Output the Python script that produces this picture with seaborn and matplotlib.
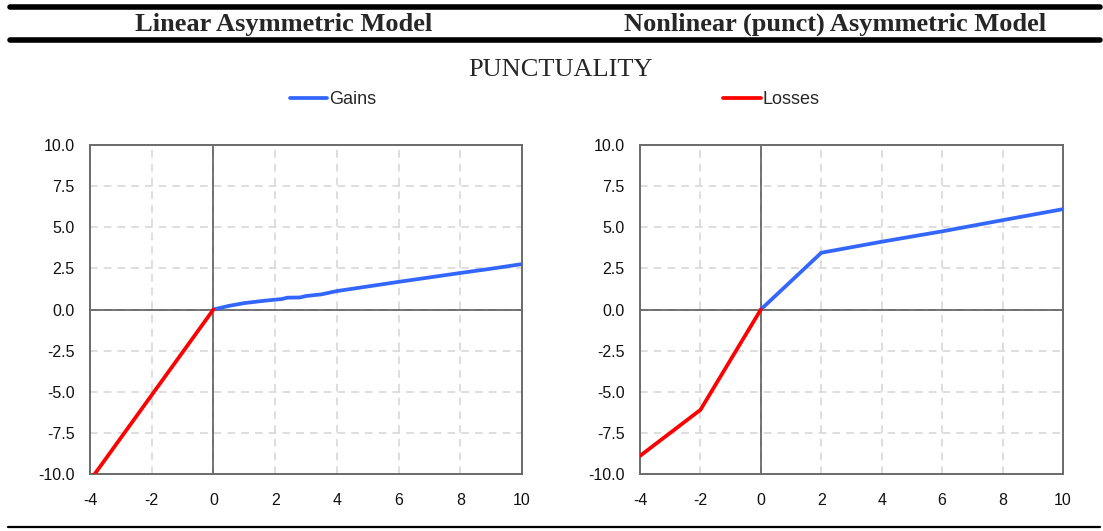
import numpy as np
import pandas as pd
import matplotlib
matplotlib.use("Agg")
import matplotlib.pyplot as plt
from matplotlib.lines import Line2D
from matplotlib.ticker import FormatStrFormatter
import seaborn as sns

# values
lin_gain_x = [0, 0.5, 1, 1.5, 2, 2.2, 2.4, 2.8, 3, 3.5, 4, 5, 6, 7, 8, 9, 10]
lin_gain_y = [0, 0.22, 0.39, 0.5, 0.6, 0.63, 0.72, 0.73, 0.82, 0.92, 1.12, 1.4, 1.68, 1.95, 2.22, 2.48, 2.76]
lin_loss_x = [-4, -3, -2, -1, 0]
lin_loss_y = [-10.4, -7.8, -5.2, -2.6, 0]

nl_gain_x = [0, 2, 4, 6, 8, 10]
nl_gain_y = [0, 3.45, 4.12, 4.75, 5.43, 6.1]
nl_loss_x = [-4, -2, 0]
nl_loss_y = [-8.9, -6.1, 0]

x_ticks = [-4, -2, 0, 2, 4, 6, 8, 10]
y_ticks = [-10, -7.5, -5, -2.5, 0, 2.5, 5, 7.5, 10]

panel_titles = ["Linear Asymmetric Model", "Nonlinear (punct) Asymmetric Model"]
chart_title = "PUNCTUALITY"

sns.set_theme(style="white")
plt.rcParams['font.family'] = ['Liberation Sans', 'DejaVu Sans']
plt.rcParams['axes.unicode_minus'] = False

BLUE = "#3366ff"
RED = "#ff0000"

fig = plt.figure(figsize=(11.03, 5.31), dpi=100)
ax1 = fig.add_axes([90/1103, 1-474/531, 432/1103, 329/531])
ax2 = fig.add_axes([640/1103, 1-474/531, 423/1103, 329/531])

panels = [(ax1, lin_gain_x, lin_gain_y, lin_loss_x, lin_loss_y),
          (ax2, nl_gain_x, nl_gain_y, nl_loss_x, nl_loss_y)]

for ax, gx, gy, lx, ly in panels:
    ax.set_xlim(-4, 10)
    ax.set_ylim(-10, 10)
    ax.set_xticks(x_ticks)
    ax.set_yticks(y_ticks)
    ax.yaxis.set_major_formatter(FormatStrFormatter('%.1f'))
    ax.grid(True, color="#d4d4d4", linestyle=(0, (5, 4)), linewidth=1.1)
    ax.axhline(0, color="#505050", linewidth=1.1, zorder=2)
    ax.axvline(0, color="#505050", linewidth=1.1, zorder=2)
    sns.lineplot(x=lx, y=ly, color=RED, linewidth=2.7, ax=ax, zorder=4)
    sns.lineplot(x=gx, y=gy, color=BLUE, linewidth=2.7, ax=ax, zorder=3)
    for s in ax.spines.values():
        s.set_color("#6a6a6a")
        s.set_linewidth(1.4)
    ax.tick_params(length=0, labelsize=11.5, colors="#111111")
    ax.tick_params(axis='y', pad=11)
    ax.tick_params(axis='x', pad=14)
    ax.set_xlabel("")
    ax.set_ylabel("")

# header rules and titles
fig.add_artist(Line2D([10/1103, 1100/1103], [1-7/531, 1-7/531], color="black", linewidth=4))
fig.add_artist(Line2D([10/1103, 1100/1103], [1-40/531, 1-40/531], color="black", linewidth=4))
fig.add_artist(Line2D([8/1103, 1100/1103], [1-527/531, 1-527/531], color="black", linewidth=1.6))

fig.text(284/1103, 1-24/531, panel_titles[0], ha="center", va="center",
         family=["Liberation Serif"], fontweight="bold", fontsize=19)
fig.text(835/1103, 1-24/531, panel_titles[1], ha="center", va="center",
         family=["Liberation Serif"], fontweight="bold", fontsize=19)
fig.text(560/1103, 1-70/531, chart_title, ha="center", va="center",
         family=["Liberation Serif"], fontsize=19)

leg_gain = [Line2D([0], [0], color=BLUE, linewidth=2.7)]
leg_loss = [Line2D([0], [0], color=RED, linewidth=2.7)]
fig.legend(leg_gain, ["Gains"], loc="center", bbox_to_anchor=(333/1103, 1-100/531),
           frameon=False, fontsize=13, handlelength=2.1, handletextpad=0.1)
fig.legend(leg_loss, ["Losses"], loc="center", bbox_to_anchor=(771/1103, 1-100/531),
           frameon=False, fontsize=13, handlelength=2.1, handletextpad=0.1)

fig.savefig("out.png", dpi=100)
